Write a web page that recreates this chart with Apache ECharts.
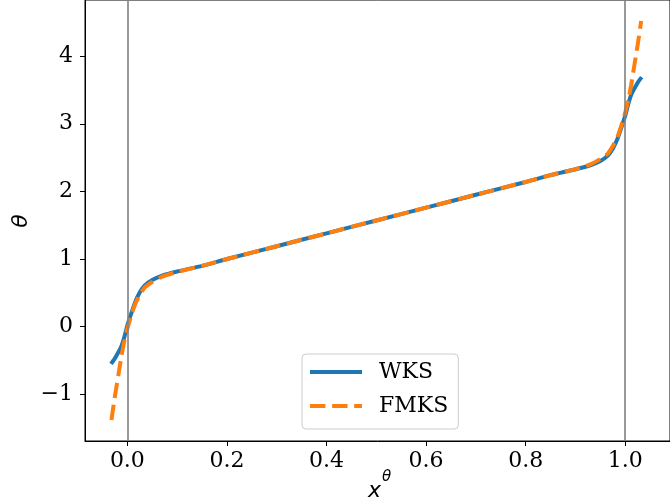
<!DOCTYPE html>
<html>
<head>
<meta charset="utf-8">
<script src="https://cdn.jsdelivr.net/npm/echarts@6/dist/echarts.min.js"></script>
<style>
html,body{margin:0;padding:0;background:#fff;}
#c{width:670px;height:500px;}
</style>
</head>
<body>
<div id="c"></div>
<script>
// ---- data ----
var WKS_X = [-0.033,-0.026,-0.019,-0.012,-0.006,0,0.008,0.016,0.025,0.035,0.05,0.07,0.1,0.15,0.2,0.3,0.4,0.5,0.6,0.7,0.8,0.85,0.9,0.93,0.95,0.965,0.975,0.984,0.992,1.0,1.006,1.012,1.019,1.026,1.033];
var WKS_Y = [-0.55,-0.48,-0.39,-0.29,-0.15,0.02,0.2,0.37,0.51,0.61,0.69,0.755,0.815,0.9,1.0,1.19,1.38,1.57,1.76,1.95,2.14,2.24,2.327,2.387,2.45,2.53,2.63,2.77,2.94,3.12,3.29,3.43,3.53,3.62,3.69];
var FMKS_X = [-0.032,-0.025,-0.018,-0.012,-0.006,0,0.008,0.016,0.025,0.035,0.05,0.07,0.1,0.15,0.2,0.3,0.4,0.5,0.6,0.7,0.8,0.85,0.9,0.93,0.95,0.965,0.975,0.984,0.992,1.0,1.006,1.012,1.018,1.025,1.032];
var FMKS_Y = [-1.38,-1.03,-0.71,-0.44,-0.21,-0.03,0.17,0.34,0.47,0.58,0.66,0.74,0.81,0.9,1.0,1.19,1.38,1.57,1.76,1.95,2.14,2.24,2.33,2.40,2.48,2.56,2.67,2.80,2.97,3.17,3.35,3.58,3.85,4.17,4.52];
var GUIDE_X = [0, 1];
var X_TICKS = [0, 0.2, 0.4, 0.6, 0.8, 1.0];
var X_TICK_LABELS = ['0.0', '0.2', '0.4', '0.6', '0.8', '1.0'];
var Y_TICKS = [-1, 0, 1, 2, 3, 4];
var Y_TICK_LABELS = ['\u22121', '0', '1', '2', '3', '4'];
var SERIES_NAMES = ['WKS', 'FMKS'];

function pairs(xs, ys) { return xs.map(function (x, i) { return [x, ys[i]]; }); }
function lookup(ticks, labels) {
  return function (v) {
    for (var i = 0; i < ticks.length; i++) if (Math.abs(ticks[i] - v) < 1e-9) return labels[i];
    return '';
  };
}

var chart = echarts.init(document.getElementById('c'), null, { renderer: 'canvas' });
var serif = 'DejaVu Serif';

chart.setOption({
  animation: false,
  backgroundColor: '#ffffff',
  grid: {
    left: 85, top: 0, width: 594, height: 441,
    show: true, borderColor: '#000', borderWidth: 1, backgroundColor: 'transparent'
  },
  xAxis: {
    type: 'value', min: -0.0851, max: 1.0899,
    axisLine: { show: true, onZero: false, lineStyle: { color: '#000', width: 1 } },
    axisTick: { show: true, length: 5, customValues: X_TICKS, lineStyle: { color: '#000', width: 1 } },
    axisLabel: { customValues: X_TICKS, formatter: lookup(X_TICKS, X_TICK_LABELS),
      fontFamily: serif, fontSize: 22, color: '#000', margin: 9 },
    splitLine: { show: false }
  },
  yAxis: {
    type: 'value', min: -1.69, max: 4.83,
    axisLine: { show: true, onZero: false, lineStyle: { color: '#000', width: 1 } },
    axisTick: { show: true, length: 5, customValues: Y_TICKS, lineStyle: { color: '#000', width: 1 } },
    axisLabel: { customValues: Y_TICKS, formatter: lookup(Y_TICKS, Y_TICK_LABELS),
      fontFamily: serif, fontSize: 22, color: '#000', margin: 12 },
    splitLine: { show: false }
  },
  legend: {
    data: SERIES_NAMES,
    orient: 'vertical',
    left: 302, top: 354,
    padding: [6, 10, 11, 6],
    itemWidth: 52, itemHeight: 24, itemGap: 10,
    itemStyle: { opacity: 0, color: 'rgba(0,0,0,0)', borderWidth: 0 },
    lineStyle: { width: 4 },
    backgroundColor: 'rgba(255,255,255,0.8)',
    borderColor: '#cccccc', borderWidth: 1, borderRadius: 4,
    textStyle: { fontFamily: serif, fontSize: 22, color: '#000', lineHeight: 24, padding: [0, 0, 0, 12] }
  },
  graphic: [
    { type: 'text', x: 368, y: 491, style: { text: 'x', font: 'italic 22px "DejaVu Sans"', fill: '#000', verticalAlign: 'middle', align: 'left' } },
    { type: 'text', x: 382, y: 477, style: { text: '\u03b8', font: 'italic 15px "DejaVu Sans"', fill: '#000', verticalAlign: 'middle', align: 'left' } },
    { type: 'text', x: 21, y: 221, rotation: Math.PI / 2, style: { text: '\u03b8', font: 'italic 22px "DejaVu Sans"', fill: '#000', verticalAlign: 'middle', align: 'center' } }
  ],
  series: [
    {
      name: 'guides', type: 'line', data: [], z: 1, silent: true,
      markLine: {
        silent: true, symbol: ['none', 'none'], label: { show: false },
        lineStyle: { color: '#808080', width: 1.6, type: 'solid' },
        data: GUIDE_X.map(function (v) { return { xAxis: v }; })
      }
    },
    {
      name: SERIES_NAMES[0], type: 'line', z: 3,
      data: pairs(WKS_X, WKS_Y), showSymbol: false, symbol: 'none',
      smooth: 0.2,
      color: '#1f77b4',
      lineStyle: { color: '#1f77b4', width: 4, type: 'solid' }
    },
    {
      name: SERIES_NAMES[1], type: 'line', z: 4,
      data: pairs(FMKS_X, FMKS_Y), showSymbol: false, symbol: 'none',
      smooth: 0.2,
      color: '#ff7f0e',
      lineStyle: { color: '#ff7f0e', width: 4, type: [15.4, 6.7] }
    }
  ]
});
</script>
</body>
</html>
